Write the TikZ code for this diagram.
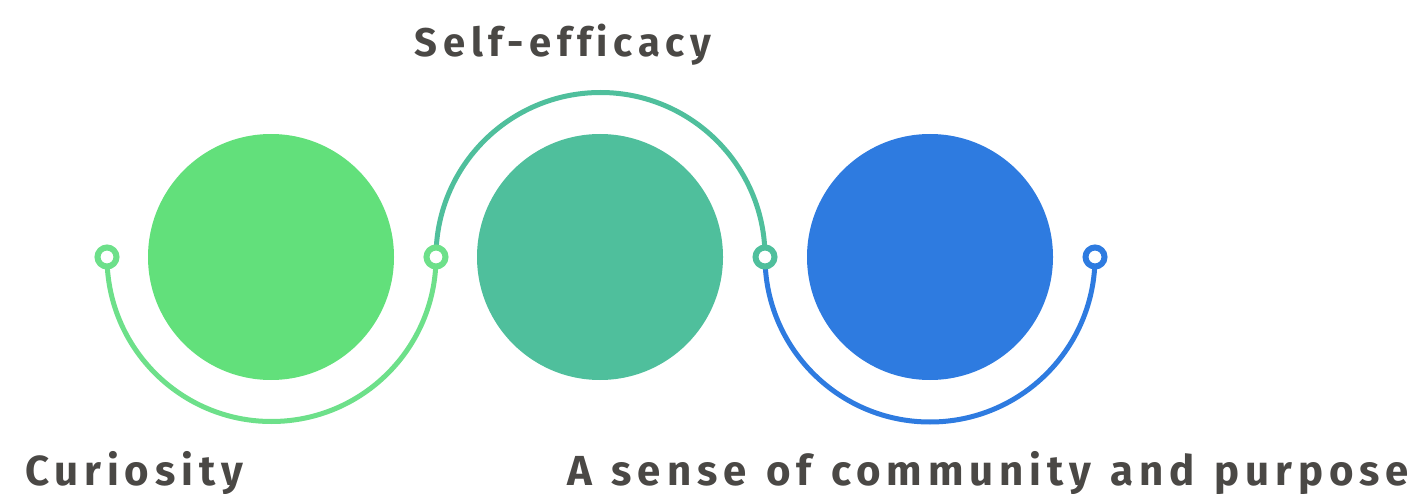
\documentclass[tikz,border=0pt]{standalone}
\usepackage{fontspec}
\usepackage{xcolor}
\newfontfamily\labelfont[LetterSpace=14, WordSpace=1.25, Ligatures={NoCommon}]{Fira Sans}

\definecolor{cgreen}{HTML}{62E07B}
\definecolor{cteal}{HTML}{4FBF9C}
\definecolor{cblue}{HTML}{2E7BE0}
\definecolor{cgreenarc}{HTML}{6DE08A}
\definecolor{ctext}{HTML}{4A4845}

\begin{document}
\begin{tikzpicture}[x=1pt, y=1pt]
        % ================= styles =================
        \tikzset{
            bignode/.style={circle, draw=none, minimum size=246, inner sep=0pt},
            ring/.style={circle, draw, line width=6, fill=white, minimum size=19, inner sep=0pt},
            link/.style={line width=5},
            caption/.style={anchor=base west, inner sep=0pt, text=ctext, font=\labelfont\bfseries\fontsize{42}{48}\selectfont}
        }
        \useasboundingbox (0,0) rectangle (1426,-494);

        % 1. big circles
        \node[bignode, fill=cgreen] (c1) at (271,-257) {};
        \node[bignode, fill=cteal]  (c2) at (600,-257) {};
        \node[bignode, fill=cblue]  (c3) at (930,-257) {};

        % 2. end points of the arcs
        \coordinate (p1) at (107,-257);
        \coordinate (p2) at (436,-257);
        \coordinate (p3) at (765,-257);
        \coordinate (p4) at (1095,-257);

        % 3. arcs (down - up - down)
        \draw[link, cgreenarc] (p1) arc[start angle=180, end angle=360, radius=164.5];
        \draw[link, cteal]     (p2) arc[start angle=180, end angle=0, radius=164.5];
        \draw[link, cblue]     (p3) arc[start angle=180, end angle=360, radius=165];

        % 4. small rings on top
        \node[ring, draw=cgreenarc] (r1) at (p1) {};
        \node[ring, draw=cgreenarc] (r2) at (p2) {};
        \node[ring, draw=cteal]     (r3) at (p3) {};
        \node[ring, draw=cblue]     (r4) at (p4) {};

        % 5. labels
        \node[caption, anchor=base, font=\labelfont\bfseries\fontsize{40}{46}\selectfont] (t2) at (563,-57) {Self-efficacy};
        \node[caption] (t1) at (25,-485) {Curiosity};
        \node[caption] (t3) at (567,-485) {A sense of community and purpose};
    \end{tikzpicture}
\end{document}
